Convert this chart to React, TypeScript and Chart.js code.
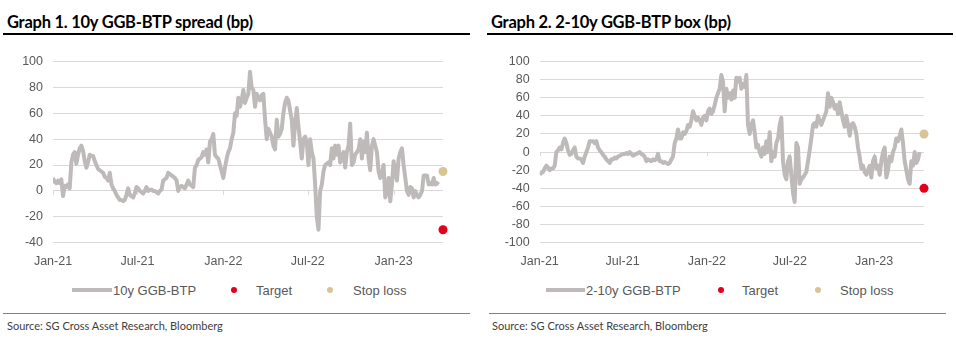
import React, { useEffect, useRef } from "react";
import { Chart, registerables } from "chart.js";

Chart.register(...registerables);

// ---- shared axis labels (x in months since Jan-21) ----
const tickMonths = [0, 5.95, 12, 17.95, 24];
const tickLabels = ["Jan-21", "Jul-21", "Jan-22", "Jul-22", "Jan-23"];

// ---- Graph 1: 10y GGB-BTP spread (bp), sampled every ~3.6 days ----
const spreadStepMonths = 12 / 102;
const spread10y = [
  10, 7, 6, 8, 6, 9, -4, 4, 3, 5, 2, 22, 28, 30, 21, 28, 33, 35, 31, 23,
  18, 22, 28, 27, 27, 23, 20, 17, 16, 15, 14, 11, 10, 8, 14, 5, 2, 0, -3, -5,
  -7, -7, -8, -7, -3, 2, -3, -4, -5, -2, 3, 2, 0, -1, -2, 0, 3, 0, 1, 1,
  0, 0, -1, -2, 0, 1, 8, 9, 10, 14, 13, 12, 11, 10, 8, 0, 3, 4, 3, 2,
  5, 8, 5, 4, 3, 18, 20, 24, 25, 26, 30, 28, 32, 22, 38, 40, 44, 28, 26, 25,
  20, 15, 10, 18, 25, 30, 33, 40, 45, 60, 58, 72, 65, 70, 78, 68, 72, 75, 92, 80,
  78, 65, 75, 72, 70, 74, 75, 55, 40, 48, 45, 42, 35, 32, 55, 42, 44, 48, 60, 68,
  72, 70, 62, 55, 35, 52, 64, 50, 38, 25, 40, 42, 38, 20, 40, 30, 25, 5, -20, -30,
  0, 5, 15, 20, 21, 22, 20, 33, 25, 35, 28, 35, 22, 26, 30, 18, 30, 35, 52, 20,
  22, 28, 30, 32, 40, 25, 38, 30, 45, 25, 16, 35, 40, 35, 30, 15, 10, 14, 20, -5,
  0, 10, -8, 5, 23, 15, 8, 25, 30, 33, 20, 10, 0, -3, 3, 2, -5, 0, -3, -5,
  -3, 0, 12, 12, 12, 5, 6, 5, 10, 5, 6, 5,
];
const spreadSignalMonth = 27.48;
const spreadTarget = -30;
const spreadStopLoss = 15;

// ---- Graph 2: 2-10y GGB-BTP box (bp), sampled every ~3.6 days ----
const boxStepMonths = 0.1196;
const box2s10s = [
  -25, -23, -22, -18, -15, -17, -20, -18, -18, -15, 0, 2, 5, 3, 10, 15, 10, 2, -3, -2,
  2, 5, -5, -7, -7, -8, -12, -5, 0, 5, 12, 12, 12, 10, 12, 5, 2, 0, -3, -5,
  -8, -10, -12, -8, -8, -6, -7, -5, -4, -3, -2, -2, -1, -2, 0, -2, -4, -3, -2, -1,
  0, -2, -3, -5, -10, -8, -9, -10, -8, -9, -8, -2, -10, -10, -12, -11, -12, -13, -12, -8,
  -5, 10, 15, 25, 15, 15, 22, 20, 23, 30, 28, 35, 45, 40, 35, 38, 35, 30, 38, 40,
  35, 45, 48, 42, 45, 52, 60, 65, 70, 85, 78, 45, 70, 60, 65, 58, 68, 60, 82, 78,
  82, 70, 75, 72, 85, 30, 20, 30, 35, 22, 5, 8, 0, -5, 5, -2, 12, 0, 22, -10,
  0, -5, 10, 15, 30, 38, -10, -25, -30, -10, -5, -25, -45, -55, 10, 5, -35, -30, -28, -25,
  -22, -10, 2, 15, 30, 32, 28, 40, 35, 30, 35, 40, 45, 65, 50, 60, 55, 48, 52, 42,
  55, 45, 35, 28, 40, 30, 18, 30, 32, 28, 20, 5, -5, -18, -15, -22, -25, -20, -15, -28,
  -10, -5, -18, -15, -25, -10, 0, 5, -28, -20, -5, -10, 0, 5, 15, 12, 18, 25, 10, -10,
  -20, -30, -35, -10, -15, 0, -12, -8, 0,
];
const boxSignalMonth = 27.58;
const boxTarget = -40;
const boxStopLoss = 20;

const LINE_COLOR = "#bfbaba";
const TARGET_COLOR = "#e2001a";
const STOP_COLOR = "#d7c596";
const GRID_COLOR = "#d9d9d9";
const TEXT_COLOR = "#595959";
const AXIS_FONT = { family: "'Liberation Sans', Arial, sans-serif", size: 12.5 };

const zeroTicks = {
  id: "zeroTicks",
  beforeDatasetsDraw(chart: any) {
    const { ctx } = chart;
    const xs = chart.scales.x;
    const ys = chart.scales.y;
    const y0 = ys.getPixelForValue(0);
    ctx.save();
    ctx.strokeStyle = GRID_COLOR;
    ctx.lineWidth = 1;
    tickMonths.forEach((m) => {
      const x = Math.round(xs.getPixelForValue(m)) + 0.5;
      ctx.beginPath();
      ctx.moveTo(x, y0);
      ctx.lineTo(x, y0 + 4);
      ctx.stroke();
    });
    ctx.restore();
  },
};

type ChartProps = {
  series: number[];
  step: number;
  signalX: number;
  target: number;
  stop: number;
  yMin: number;
  yMax: number;
  yAxisWidth: number;
  padRight: number;
  label: string;
  left: number;
};

function SpreadChart(p: ChartProps) {
  const ref = useRef<HTMLCanvasElement>(null);
  useEffect(() => {
    if (!ref.current) return;
    const chart = new Chart(ref.current, {
      type: "line",
      data: {
        datasets: [
          {
            label: p.label,
            data: p.series.map((v, i) => ({ x: i * p.step, y: v })),
            borderColor: LINE_COLOR,
            borderWidth: 4,
            pointRadius: 0,
            tension: 0,
            borderJoinStyle: "round",
          },
          {
            label: "Target",
            data: [{ x: p.signalX, y: p.target }],
            showLine: false,
            pointRadius: 4.5,
            pointBackgroundColor: TARGET_COLOR,
            pointBorderWidth: 0,
            clip: false,
          } as any,
          {
            label: "Stop loss",
            data: [{ x: p.signalX, y: p.stop }],
            showLine: false,
            pointRadius: 4.5,
            pointBackgroundColor: STOP_COLOR,
            pointBorderWidth: 0,
            clip: false,
          } as any,
        ],
      },
      options: {
        animation: false,
        responsive: false,
        maintainAspectRatio: false,
        layout: { padding: { top: 12.7, right: p.padRight, left: 0, bottom: 0 } },
        plugins: { legend: { display: false }, tooltip: { enabled: false } },
        scales: {
          x: {
            type: "linear",
            min: 0,
            max: p.signalX,
            afterBuildTicks: (s: any) => {
              s.ticks = tickMonths.map((v) => ({ value: v }));
            },
            afterFit: (s: any) => {
              s.height = 27.3;
            },
            ticks: {
              autoSkip: false,
              maxRotation: 0,
              padding: 11,
              color: TEXT_COLOR,
              font: AXIS_FONT,
              callback: (_v: any, i: number) => tickLabels[i],
            },
            grid: { display: false, drawTicks: false },
            border: { display: false },
          },
          y: {
            min: p.yMin,
            max: p.yMax,
            afterFit: (s: any) => {
              s.width = p.yAxisWidth;
            },
            ticks: { stepSize: 20, padding: 10, color: TEXT_COLOR, font: AXIS_FONT },
            grid: { color: GRID_COLOR, lineWidth: 1, drawTicks: false },
            border: { display: false },
          },
        },
      },
      plugins: [zeroTicks],
    } as any);
    return () => chart.destroy();
  }, []);
  return (
    <canvas
      ref={ref}
      width={470}
      height={226}
      style={{ position: "absolute", left: p.left, top: 44, width: 470, height: 226 }}
    />
  );
}

const abs = (left: number, top: number, extra: React.CSSProperties = {}): React.CSSProperties => ({
  position: "absolute",
  left,
  top,
  whiteSpace: "nowrap",
  ...extra,
});

const titleStyle: React.CSSProperties = {
  fontFamily: "Lato, 'Noto Sans', sans-serif",
  fontWeight: 700,
  fontSize: 16.5,
  letterSpacing: "-0.25px",
  lineHeight: "20px",
  color: "#000",
};
const legendText: React.CSSProperties = {
  fontFamily: "'Liberation Sans', Arial, sans-serif",
  fontSize: 13,
  lineHeight: "15px",
  color: TEXT_COLOR,
};
const sourceStyle: React.CSSProperties = {
  fontFamily: "Lato, 'Noto Sans', sans-serif",
  fontSize: 11,
  lineHeight: "13px",
  color: "#404040",
};

function Legend(props: {
  lineX: number;
  lineW: number;
  seriesLabel: string;
  targetDot: number;
  targetText: number;
  stopDot: number;
  stopText: number;
}) {
  const y = 290;
  const dot = (x: number, c: string) => (
    <div style={abs(x - 3, y - 3, { width: 6, height: 6, borderRadius: 3, background: c })} />
  );
  return (
    <>
      <div style={abs(props.lineX, y - 2, { width: props.lineW, height: 4, background: LINE_COLOR })} />
      <div style={abs(props.lineX + props.lineW + 1, 283, legendText)}>{props.seriesLabel}</div>
      {dot(props.targetDot, TARGET_COLOR)}
      <div style={abs(props.targetText, 283, legendText)}>Target</div>
      {dot(props.stopDot, STOP_COLOR)}
      <div style={abs(props.stopText, 283, legendText)}>Stop loss</div>
    </>
  );
}

export default function App() {
  return (
    <div style={{ position: "absolute", left: 0, top: 0, width: 956, height: 343, background: "#fff", overflow: "hidden" }}>
      {/* Left panel */}
      <div style={abs(7, 12, titleStyle)}>Graph 1. 10y GGB-BTP spread (bp)</div>
      <div style={abs(3, 33, { width: 467, height: 2, background: "#000" })} />
      <SpreadChart
        series={spread10y}
        step={spreadStepMonths}
        signalX={spreadSignalMonth}
        target={spreadTarget}
        stop={spreadStopLoss}
        yMin={-40}
        yMax={100}
        yAxisWidth={53}
        padRight={27}
        label="10y GGB-BTP"
        left={0}
      />
      <Legend lineX={72} lineW={40} seriesLabel="10y GGB-BTP" targetDot={234} targetText={256} stopDot={330} stopText={353} />
      <div style={abs(3, 313, { width: 467, height: 1, background: "#808080" })} />
      <div style={abs(7, 319, sourceStyle)}>Source: SG Cross Asset Research, Bloomberg</div>

      {/* Right panel */}
      <div style={abs(491, 12, titleStyle)}>Graph 2. 2-10y GGB-BTP box (bp)</div>
      <div style={abs(487, 33, { width: 466, height: 2, background: "#000" })} />
      <SpreadChart
        series={box2s10s}
        step={boxStepMonths}
        signalX={boxSignalMonth}
        target={boxTarget}
        stop={boxStopLoss}
        yMin={-100}
        yMax={100}
        yAxisWidth={61.7}
        padRight={24}
        label="2-10y GGB-BTP"
        left={478}
      />
      <Legend lineX={546} lineW={39} seriesLabel="2-10y GGB-BTP" targetDot={721} targetText={742} stopDot={818} stopText={840} />
      <div style={abs(489, 313, { width: 457, height: 1, background: "#808080" })} />
      <div style={abs(492, 319, sourceStyle)}>Source: SG Cross Asset Research, Bloomberg</div>
    </div>
  );
}
